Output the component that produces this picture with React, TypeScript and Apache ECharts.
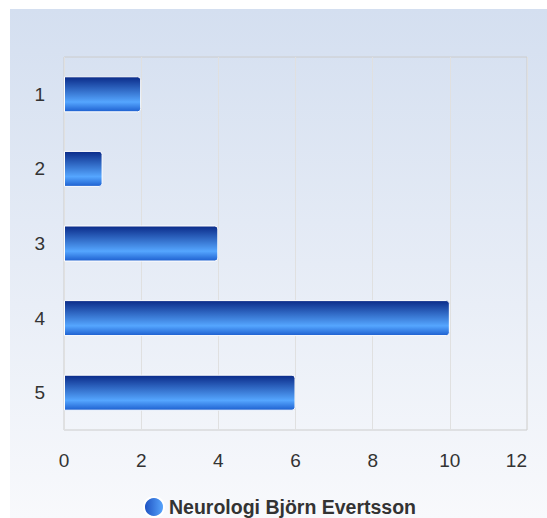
import React, { useEffect, useRef } from "react";
import * as echarts from "echarts";

const categories = ["1", "2", "3", "4", "5"];
const values = [2, 1, 4, 10, 6];
const seriesName = "Neurologi Björn Evertsson";
const xTicks = { min: 0, max: 12, interval: 2 };

export default function App() {
  const ref = useRef<HTMLDivElement>(null);
  useEffect(() => {
    if (!ref.current) return;
    const chart = echarts.init(ref.current, null, { renderer: "svg" });
    const barGrad = new echarts.graphic.LinearGradient(0, 0, 0, 1, [
      { offset: 0, color: "#0a2a88" },
      { offset: 0.72, color: "#55a6ff" },
      { offset: 1, color: "#1d5fcf" },
    ]);
    const legendGrad = new echarts.graphic.LinearGradient(0, 0, 1, 0, [
      { offset: 0, color: "#1c4fc0" },
      { offset: 1, color: "#5aa8ff" },
    ]);
    chart.setOption({
      animation: false,
      backgroundColor: new echarts.graphic.LinearGradient(0, 0, 0, 1, [
        { offset: 0, color: "#d4dff0" },
        { offset: 1, color: "#f8f9fc" },
      ]),
      textStyle: { fontFamily: "Liberation Sans, Arial, sans-serif" },
      grid: {
        left: 54,
        top: 48,
        right: 20,
        bottom: 88,
        show: true,
        borderColor: "#cccccc",
        borderWidth: 1,
        backgroundColor: "transparent",
      },
      legend: {
        data: [{ name: seriesName, icon: "circle", itemStyle: { color: legendGrad } }],
        top: 482,
        left: 128,
        itemWidth: 20,
        itemHeight: 20,
        itemGap: 6,
        textStyle: { fontSize: 19.5, fontWeight: "bold", color: "#333333" },
      },
      xAxis: {
        type: "value",
        min: xTicks.min,
        max: xTicks.max,
        interval: xTicks.interval,
        axisLine: { show: false },
        axisTick: { show: false },
        splitLine: { show: true, lineStyle: { color: "#e0e0e0", width: 1 } },
        axisLabel: { fontSize: 19, color: "#333333", margin: 21, alignMaxLabel: "right" },
      },
      yAxis: {
        type: "category",
        data: categories,
        inverse: true,
        axisLine: { show: false },
        axisTick: { show: false },
        splitLine: { show: false },
        axisLabel: { fontSize: 19, color: "#333333", margin: 19 },
      },
      series: [
        {
          name: seriesName,
          type: "bar",
          data: values,
          barWidth: 36,
          itemStyle: {
            color: barGrad,
            borderColor: "#ffffff",
            borderWidth: 1,
            borderRadius: [0, 3, 3, 0],
          },
        },
      ],
    });
    return () => chart.dispose();
  }, []);
  return (
    <div
      ref={ref}
      style={{ position: "absolute", left: 10, top: 9, width: 537, height: 509 }}
    />
  );
}
